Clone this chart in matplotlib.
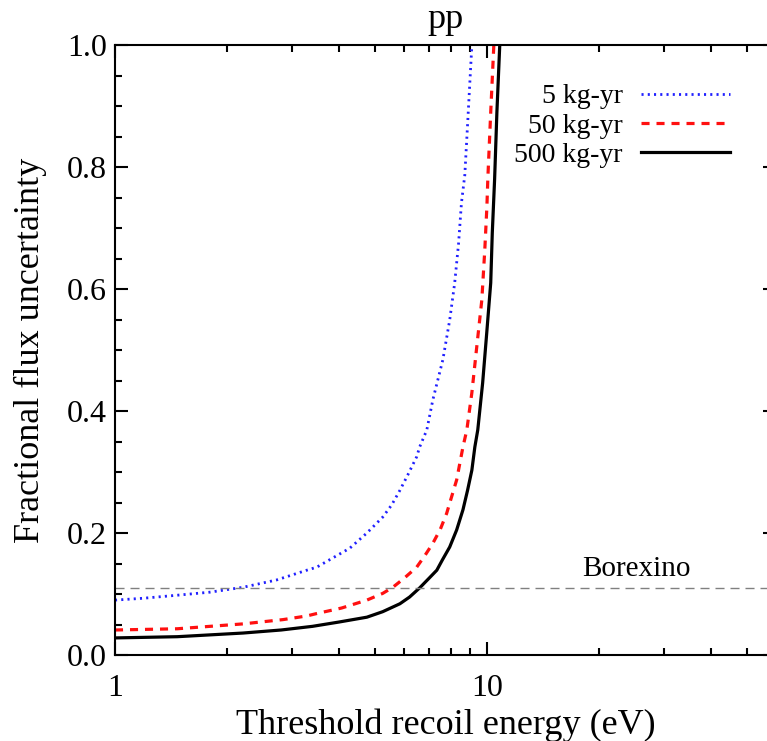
import numpy as np
import matplotlib
matplotlib.use('Agg')
import matplotlib.pyplot as plt
from matplotlib import ticker

# values
e_5 = [1.0, 1.19, 1.47, 1.8, 2.21, 2.72, 3.28, 3.49, 3.85, 4.28, 4.76, 5.25,
       5.55, 5.84, 6.13, 6.48, 6.6, 6.9, 7.16, 7.62, 7.95, 8.2, 8.4, 8.55,
       8.73, 8.9, 9.12]
u_5 = [0.090, 0.093, 0.098, 0.103, 0.111, 0.123, 0.139, 0.144, 0.159, 0.175,
       0.200, 0.226, 0.246, 0.270, 0.295, 0.325, 0.341, 0.369, 0.418, 0.484,
       0.549, 0.610, 0.675, 0.741, 0.787, 0.880, 1.0]

e_50 = [1.0, 1.47, 2.21, 2.83, 3.28, 3.49, 4.07, 4.76, 5.25, 5.59, 6.0, 6.48,
        6.8, 7.16, 7.5, 7.8, 8.05, 8.3, 8.63, 8.84, 9.12, 9.4, 9.7, 9.88,
        10.01, 10.07, 10.25, 10.45]
u_50 = [0.041, 0.043, 0.051, 0.058, 0.064, 0.068, 0.077, 0.090, 0.101, 0.111,
        0.126, 0.144, 0.162, 0.183, 0.206, 0.232, 0.260, 0.287, 0.341, 0.369,
        0.430, 0.505, 0.582, 0.664, 0.735, 0.782, 0.890, 1.0]

e_500 = [1.0, 1.47, 2.21, 2.8, 3.4, 4.0, 4.76, 5.25, 5.84, 6.2, 6.6, 7.0,
         7.34, 7.6, 7.95, 8.3, 8.63, 8.88, 9.12, 9.29, 9.46, 9.75, 10.0,
         10.25, 10.35, 10.5, 10.65, 10.84]
u_500 = [0.028, 0.030, 0.036, 0.041, 0.047, 0.054, 0.062, 0.071, 0.084, 0.095,
         0.110, 0.126, 0.139, 0.156, 0.177, 0.205, 0.238, 0.270, 0.303, 0.341,
         0.369, 0.446, 0.528, 0.610, 0.692, 0.780, 0.890, 1.0]

series_labels = ['5 kg-yr', '50 kg-yr', '500 kg-yr']
borexino = 0.11
x_ticks = [1, 10]
x_ticklabels = ['1', '10']
y_ticks = [0.0, 0.2, 0.4, 0.6, 0.8, 1.0]

plt.rcParams['font.family'] = ['Liberation Serif', 'DejaVu Serif']
plt.rcParams['lines.scale_dashes'] = False

W, H = 767, 741
fig = plt.figure(figsize=(W / 100, H / 100), dpi=100)
ax = fig.add_axes([115 / W, (H - 655) / H, 661 / W, 610 / H])

ax.plot(e_5, u_5, color='#2020ff', lw=2.0, dashes=(1.5, 3.0), label=series_labels[0])
ax.plot(e_50, u_50, color='#ff1010', lw=2.3, dashes=(5.8, 5.0), label=series_labels[1])
ax.plot(e_500, u_500, color='black', lw=2.3, label=series_labels[2])
ax.axhline(borexino, color='#808080', lw=1.0, dashes=(6.5, 4.3))
ax.text(25.3, borexino + 0.02, 'Borexino', fontsize=21, ha='center', va='baseline')

ax.set_xscale('log')
ax.set_xlim(1, 60)
ax.set_ylim(0, 1)
ax.set_xticks(x_ticks)
ax.set_xticklabels(x_ticklabels)
ax.xaxis.set_minor_locator(ticker.LogLocator(subs=np.arange(2, 10)))
ax.xaxis.set_minor_formatter(ticker.NullFormatter())
ax.set_yticks(y_ticks)
ax.set_yticklabels(['%.1f' % v for v in y_ticks])
ax.yaxis.set_minor_locator(ticker.MultipleLocator(0.05))

ax.tick_params(which='both', direction='in', top=True, right=True, width=1.5)
ax.tick_params(which='major', length=9.6, labelsize=23)
ax.tick_params(which='minor', length=5)
ax.tick_params(axis='x', which='major', pad=13.5)
ax.tick_params(axis='y', which='major', pad=5.8)
for s in ax.spines.values():
    s.set_linewidth(1.5)

ax.set_xlabel('Threshold recoil energy (eV)', fontsize=26)
ax.set_ylabel('Fractional flux uncertainty', fontsize=26)
ax.xaxis.set_label_coords(0.5, -0.087)
ax.yaxis.set_label_coords(-0.103, 0.5)
ax.set_title('pp', fontsize=26, pad=12)

ax.legend(loc='upper right', bbox_to_anchor=(0.930, 0.936), frameon=False,
          markerfirst=False, fontsize=20, handlelength=3.2, handletextpad=0.65,
          labelspacing=0.13, borderpad=0, borderaxespad=0)

fig.savefig('out.png', dpi=100)
